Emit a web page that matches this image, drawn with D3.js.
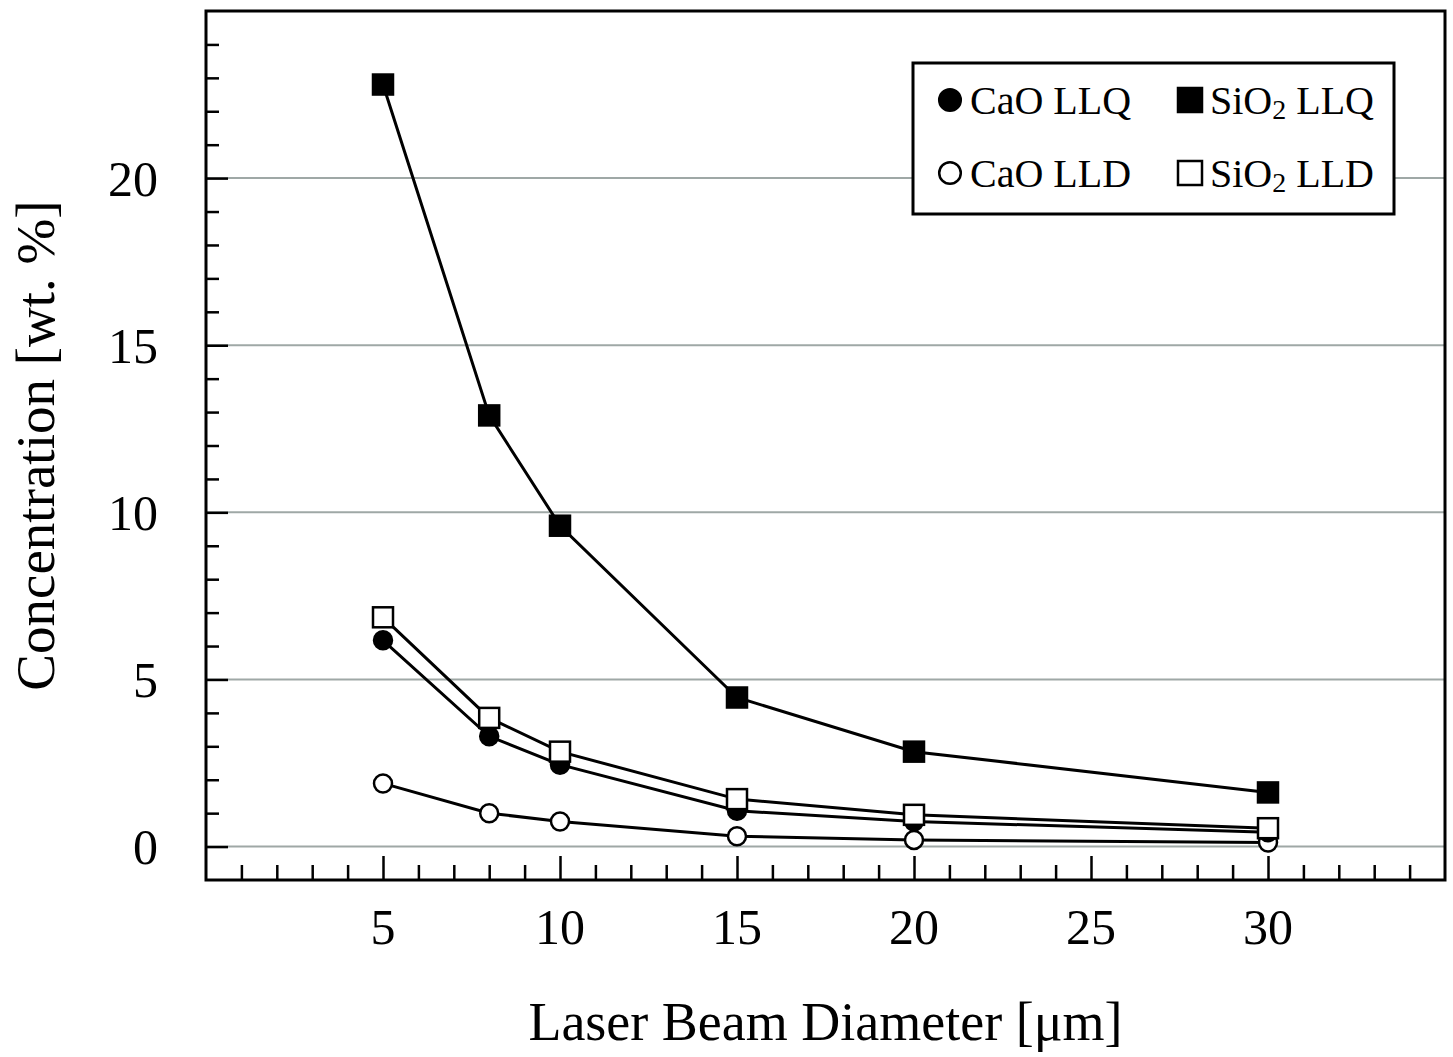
<!DOCTYPE html>
<html>
<head>
<meta charset="utf-8">
<script src="https://cdn.jsdelivr.net/npm/d3@7"></script>
<style>
  body { margin: 0; background: #fff; }
  svg { font-family: "Liberation Serif", "DejaVu Serif", serif; }
</style>
</head>
<body>
<svg id="chart"></svg>
<script>
// beam diameters (µm)
const diameters = [5, 8, 10, 15, 20, 30];

// concentrations (wt. %)
const sio2LLQ = [22.8, 12.9, 9.6, 4.46, 2.84, 1.62];
const sio2LLD = [6.86, 3.85, 2.84, 1.42, 0.95, 0.55];
const caoLLQ  = [6.17, 3.3, 2.45, 1.07, 0.75, 0.43];
const caoLLD  = [1.89, 1.0, 0.75, 0.31, 0.2, 0.12];

const xTicks = [5, 10, 15, 20, 25, 30];
const yTicks = [0, 5, 10, 15, 20];

const series = [
  { name: "CaO LLD", values: caoLLD, shape: "circle", fill: "#fff" },
  { name: "CaO LLQ", values: caoLLQ, shape: "circle", fill: "#000" },
  { name: "SiO2 LLD", values: sio2LLD, shape: "square", fill: "#fff" },
  { name: "SiO2 LLQ", values: sio2LLQ, shape: "square", fill: "#000" }
];

const config = {
  width: 1453, height: 1057,
  margin: { top: 11, right: 8, bottom: 177, left: 206 }
};

let svg = d3.select("#chart")
  .attr("width", config.width)
  .attr("height", config.height);

let w = config.width - config.margin.left - config.margin.right;
let h = config.height - config.margin.top - config.margin.bottom;

let chart = svg.append("g")
  .attr("transform", `translate(${config.margin.left},${config.margin.top})`);

let xScale = d3.scaleLinear().domain([0, 35]).range([0, w]);
let yScale = d3.scaleLinear().domain([-1, 25]).range([h, 0]);

// gridlines
chart.append("g")
  .selectAll("line")
  .data(yTicks)
  .join("line")
    .attr("x1", 0).attr("x2", w)
    .attr("y1", d => yScale(d)).attr("y2", d => yScale(d))
    .attr("stroke", "#9fa8a6")
    .attr("stroke-width", 2);

// x axis, ticks pointing inward
let xAxis = d3.axisBottom(xScale)
  .tickValues(d3.range(1, 35))
  .tickSize(0)
  .tickFormat("");
let xg = chart.append("g")
  .attr("transform", `translate(0,${h})`)
  .call(xAxis);
xg.select(".domain").remove();
xg.selectAll(".tick line")
  .attr("y2", d => d % 5 === 0 ? -24 : -15)
  .attr("stroke", "#000")
  .attr("stroke-width", 2.5);
chart.append("g")
  .selectAll("text")
  .data(xTicks)
  .join("text")
    .attr("x", d => xScale(d))
    .attr("y", h + 64)
    .attr("text-anchor", "middle")
    .attr("font-size", 50)
    .text(d => d);

// y axis, ticks pointing inward
let yAxis = d3.axisLeft(yScale)
  .tickValues(d3.range(0, 25))
  .tickSize(0)
  .tickFormat("");
let yg = chart.append("g").call(yAxis);
yg.select(".domain").remove();
yg.selectAll(".tick line")
  .attr("x2", d => d % 5 === 0 ? 22 : 13)
  .attr("stroke", "#000")
  .attr("stroke-width", 2.5);
chart.append("g")
  .selectAll("text")
  .data(yTicks)
  .join("text")
    .attr("x", -48)
    .attr("y", d => yScale(d))
    .attr("dy", "0.35em")
    .attr("text-anchor", "end")
    .attr("font-size", 50)
    .text(d => d);

// frame
chart.append("rect")
  .attr("width", w).attr("height", h)
  .attr("fill", "none")
  .attr("stroke", "#000")
  .attr("stroke-width", 3);

// axis titles
chart.append("text")
  .attr("x", w / 2)
  .attr("y", h + 160)
  .attr("text-anchor", "middle")
  .attr("font-size", 54)
  .text("Laser Beam Diameter [μm]");

chart.append("text")
  .attr("transform", `translate(${-152},${yScale(12)}) rotate(-90)`)
  .attr("text-anchor", "middle")
  .attr("font-size", 55)
  .text("Concentration [wt. %]");

// lines
let line = d3.line()
  .x((d, i) => xScale(diameters[i]))
  .y(d => yScale(d));

chart.append("g")
  .selectAll("path")
  .data(series)
  .join("path")
    .attr("d", s => line(s.values))
    .attr("fill", "none")
    .attr("stroke", "#000")
    .attr("stroke-width", 3);

// markers
function drawMarker(g, shape, fill, cx, cy, size) {
  if (shape === "circle") {
    g.append("circle")
      .attr("cx", cx).attr("cy", cy).attr("r", size * 0.45)
      .attr("fill", fill)
      .attr("stroke", "#000").attr("stroke-width", 2.5);
  } else {
    g.append("rect")
      .attr("x", cx - size / 2).attr("y", cy - size / 2)
      .attr("width", size).attr("height", size)
      .attr("fill", fill)
      .attr("stroke", "#000").attr("stroke-width", 2.5);
  }
}

let marks = chart.append("g");
series.forEach(s => {
  s.values.forEach((v, i) => {
    drawMarker(marks, s.shape, s.fill, xScale(diameters[i]), yScale(v), 20);
  });
});

// legend
let legend = svg.append("g");
legend.append("rect")
  .attr("x", 913).attr("y", 63)
  .attr("width", 481).attr("height", 151)
  .attr("fill", "#fff")
  .attr("stroke", "#000")
  .attr("stroke-width", 3);

const legendItems = [
  { s: series[1], label: "CaO LLQ", col: 0, row: 0 },
  { s: series[3], label: "SiO", sub: "2", rest: " LLQ", col: 1, row: 0 },
  { s: series[0], label: "CaO LLD", col: 0, row: 1 },
  { s: series[2], label: "SiO", sub: "2", rest: " LLD", col: 1, row: 1 }
];

legendItems.forEach(item => {
  let mx = item.col === 0 ? 950 : 1190;
  let my = item.row === 0 ? 100 : 173;
  drawMarker(legend, item.s.shape, item.s.fill, mx, my, 24);
  let t = legend.append("text")
    .attr("x", mx + 20)
    .attr("y", my)
    .attr("dy", "0.35em")
    .attr("font-size", 40);
  t.append("tspan").text(item.label);
  if (item.sub) {
    t.append("tspan").attr("font-size", 28).attr("dy", 5).text(item.sub);
    t.append("tspan").attr("font-size", 40).attr("dy", -5).text(item.rest);
  }
});
</script>
</body>
</html>
